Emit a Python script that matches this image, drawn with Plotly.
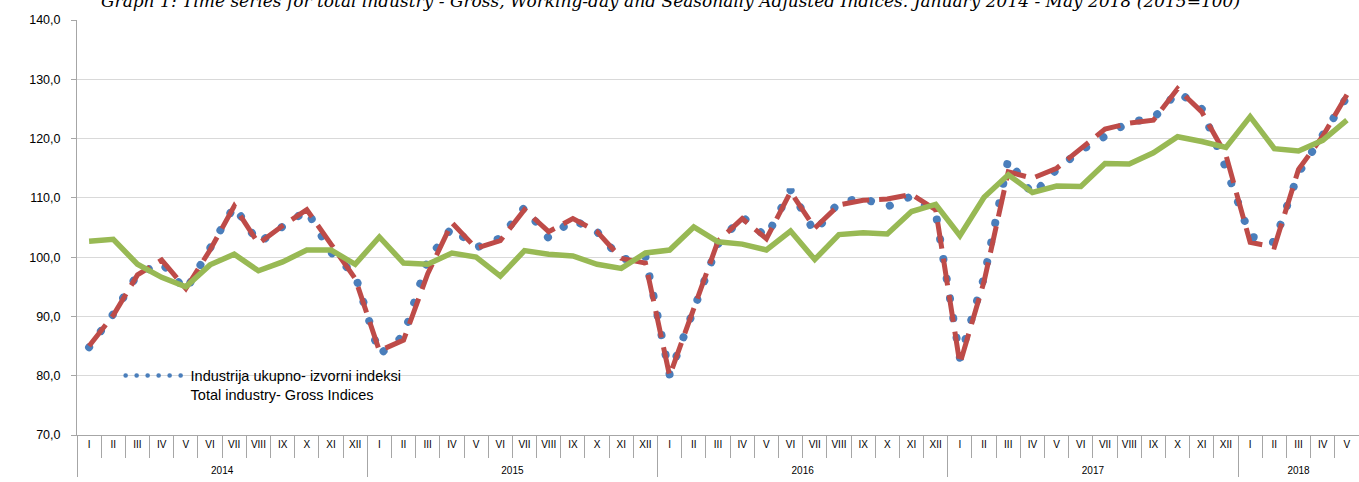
import plotly.graph_objects as go

# ---- data ----
months_roman = ["I", "II", "III", "IV", "V", "VI", "VII", "VIII", "IX", "X", "XI", "XII"]
years = ["2014", "2015", "2016", "2017", "2018"]
months_per_year = [12, 12, 12, 12, 5]

gross = [
    84.8, 90.4, 97.1, 99.0, 94.4, 101.3, 108.6, 102.4, 105.0, 107.9, 100.8, 97.0,
    83.6, 86.7, 99.5, 105.0, 101.6, 103.2, 108.4, 103.2, 106.3, 104.3, 99.6, 100.1,
    80.2, 90.8, 102.2, 106.8, 103.4, 111.3, 104.2, 109.3, 109.9, 108.5, 110.3, 107.5,
    83.0, 96.6, 116.5, 110.5, 114.8, 118.0, 120.3, 122.8, 123.4, 127.9, 125.0, 115.0,
    103.5, 102.5, 114.2, 120.3, 127.0,
]
working_day = [
    85.0, 90.2, 97.0, 99.5, 94.7, 101.2, 108.6, 102.3, 105.3, 108.0, 102.2, 96.4,
    84.2, 86.0, 97.2, 105.8, 101.5, 102.8, 108.0, 104.3, 106.5, 104.3, 99.8, 99.0,
    80.0, 91.5, 102.7, 106.5, 103.1, 111.0, 104.9, 108.8, 109.6, 109.8, 110.6, 108.0,
    82.0, 95.9, 114.4, 113.3, 115.0, 118.3, 121.6, 122.6, 123.1, 128.4, 124.5, 117.2,
    102.5, 101.7, 114.8, 120.4, 127.4,
]
seasonal = [
    102.7, 103.0, 98.8, 96.6, 95.0, 98.7, 100.5, 97.7, 99.2, 101.2, 101.2, 98.8,
    103.4, 99.0, 98.8, 100.7, 100.0, 96.8, 101.1, 100.5, 100.2, 98.8, 98.1, 100.7,
    101.2, 105.1, 102.6, 102.2, 101.2, 104.4, 99.6, 103.8, 104.1, 103.9, 107.7, 108.9,
    103.6, 110.1, 113.9, 110.9, 112.0, 111.9, 115.8, 115.7, 117.6, 120.3, 119.5, 118.5,
    123.7, 118.3, 117.9, 119.7, 123.1,
]

title_text = ("Graph 1: Time series for total industry - Gross, Working-day and Seasonally "
              "Adjusted Indices. January 2014 - May 2018 (2015=100)")
legend_gross = "Industrija ukupno- izvorni indeksi<br>Total industry- Gross Indices"

# ---- build multicategory x ----
x_years, x_months = [], []
for y, n in zip(years, months_per_year):
    x_years += ["<br>" + y] * n
    x_months += months_roman[:n]
x = [x_years, x_months]
n_points = len(x_months)

fig = go.Figure()
fig.add_trace(go.Scatter(
    x=x, y=gross, mode="lines", name=legend_gross,
    line=dict(color="#4a7ebb", width=8, dash="7px,13px"),
    showlegend=True,
))
fig.add_trace(go.Scatter(
    x=x, y=working_day, mode="lines", name="Working-day adjusted",
    line=dict(color="#be4b48", width=5, dash="27px,10px"),
    showlegend=False,
))
fig.add_trace(go.Scatter(
    x=x, y=seasonal, mode="lines", name="Seasonally adjusted",
    line=dict(color="#98b954", width=5.5),
    showlegend=False,
))

fig.update_layout(
    width=1359, height=482,
    margin=dict(l=77, r=0, t=20, b=47),
    paper_bgcolor="white", plot_bgcolor="white",
    separators=", ",
    font=dict(family="Liberation Sans", color="#404040"),
    legend=dict(
        x=0.034, y=0.182, xanchor="left", yanchor="top",
        bgcolor="rgba(0,0,0,0)", font=dict(size=14.5, color="#000000"),
        valign="top", itemwidth=60,
    ),
    annotations=[dict(
        text="<i>" + title_text + "</i>", xref="paper", yref="paper",
        x=0.463, y=1.045, xanchor="center", yanchor="middle", showarrow=False,
        font=dict(family="DejaVu Serif", size=17, color="#000000"),
    )],
)

fig.update_yaxes(
    range=[70, 140], dtick=10, tickformat=".1f",
    showgrid=True, gridcolor="#d9d9d9", gridwidth=1,
    showline=True, linecolor="#a6a6a6", linewidth=1,
    ticks="outside", ticklen=5, tickcolor="#a6a6a6",
    tickfont=dict(size=12.5, color="#000000"), ticklabelstandoff=8,
    zeroline=False,
)
fig.update_xaxes(
    type="multicategory", tickson="boundaries",
    range=[-0.5, n_points - 0.5],
    ticks="outside", ticklen=22, tickcolor="#a6a6a6",
    showline=True, linecolor="#a6a6a6", linewidth=1,
    showdividers=True, dividercolor="#a6a6a6", dividerwidth=1,
    tickfont=dict(size=10, color="#000000"),
    showgrid=False,
)

post = """
document.body.style.margin = '0';
document.body.style.padding = '0';
var gd = document.getElementsByClassName('plotly-graph-div')[0];
function roundDots() {
  var tr = gd.querySelectorAll('.scatterlayer .trace')[0];
  if (tr) tr.querySelectorAll('path.js-line').forEach(function(p){
    p.style.strokeLinecap = 'round';
    p.style.strokeDasharray = '0.1px,19.9px';
  });
  gd.querySelectorAll('.legend .legendlines path').forEach(function(p){
    p.style.strokeLinecap = 'round';
    p.style.strokeWidth = '4.5px';
    p.style.strokeDasharray = '0.1px,10.9px';
  });
}
roundDots();
gd.on('plotly_afterplot', roundDots);
"""

fig.write_html("out.html", post_script=post, config={"displayModeBar": False})
